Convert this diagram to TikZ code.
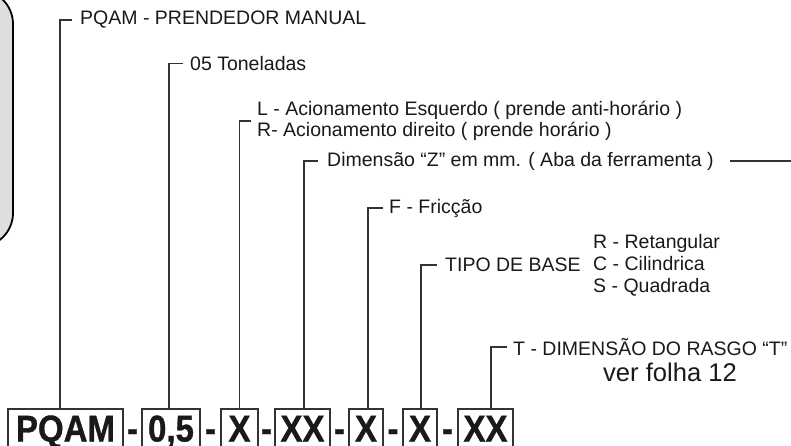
\documentclass[tikz,border=0pt]{standalone}
\usepackage{graphicx}
\usepackage{fontspec}
\setmainfont{Liberation Sans}
\newfontfamily\negrito{Liberation Sans Bold}[FakeBold=1]
\usepackage{tikz}
\newcommand{\rotulo}{\fontsize{19.5}{21}\selectfont}
\newcommand{\codigo}{\negrito\fontsize{33}{36}\selectfont}
\newcommand{\alto}[1]{\scalebox{1}[1.13]{#1}}

\begin{document}
\begin{tikzpicture}[x=1pt, y=-1pt,
every node/.style={inner sep=0pt, text=black!90},
caixa/.style={draw=black!80, line width=1.3pt, anchor=base, inner xsep=0pt, inner ysep=6pt,
	text height=26.5pt, text depth=0pt, font=\codigo},
rotulo/.style={anchor=west, font=\rotulo, align=left},
cota/.style={draw=black!80, line width=1.2pt}]
\clip (0,0) rectangle (791,445);

%grey panel cut by the left border
\draw[fill=black!13, line width=1.8pt, rounded corners=34pt] (-40,-10) rectangle (13,247);

%code boxes
\node[caixa, minimum width=115pt](pqam) at (65.5,441.5) {\alto{PQAM}};
\node[caixa, minimum width=58pt](p05) at (171,441.5) {\alto{0,5}};
\node[caixa, minimum width=37pt](xa) at (239.5,441.5) {\alto{X}};
\node[caixa, minimum width=55pt](xxz) at (302.5,441.5) {\alto{XX}};
\node[caixa, minimum width=34pt](xf) at (366,441.5) {\alto{X}};
\node[caixa, minimum width=34pt](xb) at (420,441.5) {\alto{X}};
\node[caixa, minimum width=55pt](xxt) at (485.5,441.5) {\alto{XX}};

%separators
\foreach \x/\i in {132.5/1,210.5/2,266.5/3,339.5/4,393/5,447.5/6}
	\node[font=\codigo, anchor=base](hifen\i) at (\x,441.5) {\alto{-}};

%texts
\node[rotulo](tpqam) at (80,20) {PQAM - PRENDEDOR MANUAL};
\node[rotulo](tton) at (190,63.5) {05 Toneladas};
\node[rotulo](tacio) at (257,121) {L - Acionamento Esquerdo ( prende anti-horário )\\R- Acionamento direito ( prende horário )};
\node[rotulo](tdim) at (327,161) {Dimensão “Z” em mm. ( Aba da ferramenta )};
\coordinate (zfim) at (800,162);
\node[rotulo](tfric) at (389,208) {F - Fricção};
\node[rotulo](tbase) at (445,265) {TIPO DE BASE};
\node[rotulo, font=\fontsize{19.5}{22}\selectfont](tlista) at (593,265) {R - Retangular\\C - Cilindrica\\S - Quadrada};
\node[rotulo](trasgo) at (513,347) {T - DIMENSÃO DO RASGO “T”};
\node[font=\fontsize{25.6}{28}\selectfont](tfolha) at (670,372) {ver folha 12};

%leader lines
\draw[cota] ([xshift=-5.5pt]pqam.north) |- ([xshift=-8pt]tpqam.west);
\draw[cota] ([xshift=-2pt]p05.north) |- ([xshift=-7pt]tton.west);
\draw[cota] (xa.north) |- ([xshift=-6pt]tacio.west);
\draw[cota] ([xshift=1.5pt]xxz.north) |- ([xshift=-9pt]tdim.west);
\draw[cota] ([xshift=2pt]xf.north) |- ([xshift=-6pt]tfric.west);
\draw[cota] ([xshift=1pt]xb.north) |- ([xshift=-8pt]tbase.west);
\draw[cota] ([xshift=5.5pt]xxt.north) |- ([xshift=-6pt]trasgo.west);
\draw[cota] ([xshift=16pt]tdim.east) -- (tdim.east -| zfim);
\end{tikzpicture}
\end{document}
